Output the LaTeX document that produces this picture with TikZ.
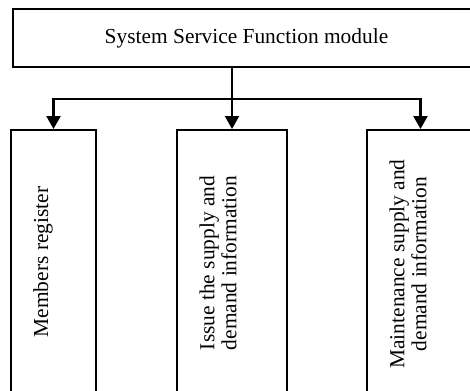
\documentclass[tikz,border=0pt]{standalone}
\usepackage{fontspec}
\setmainfont{Liberation Serif}
\usetikzlibrary{arrows.meta,positioning}

\begin{document}
\begin{tikzpicture}[
  x=0.5pt, y=-0.5pt,
  font=\fontsize{10.7}{11}\selectfont,
  every node/.style={align=center},
  topbox/.style={draw, line width=0.9pt, minimum width=233.5pt,
                 minimum height=29pt, inner sep=0pt},
  subbox/.style={draw, line width=0.9pt, minimum height=135.5pt,
                 inner sep=0pt, anchor=north},
  lbl/.style={rotate=90, inner sep=0pt},
  arr/.style={-{Triangle[length=6.5pt,width=7pt]}, line width=1.1pt}
]
\useasboundingbox (0,0) rectangle (470,390);
\clip (0,0) rectangle (470,390);

\node[topbox] (top) at (246.5,38) {System Service Function module};
\node[subbox, minimum width=42.5pt] (members) at (53.5,129) {};
\node[subbox, minimum width=55pt] (issue) at (232,129) {};
\node[subbox, minimum width=53.5pt] (maint) at (420.5,129) {};

\node[lbl] (memtxt) at (43,262) {Members register};
\node[lbl] (issuetxt) at (218,263) {Issue the supply and\\demand information};
\node[lbl] (mainttxt) at (408,264) {Maintenance supply and\\demand information};

\coordinate (split) at (issue.north |- 0,99);
\draw[arr] (top.south -| issue.north) -- (issue.north);
\draw[arr] (split) -| (members.north);
\draw[arr] (split) -| (maint.north);
\end{tikzpicture}
\end{document}
